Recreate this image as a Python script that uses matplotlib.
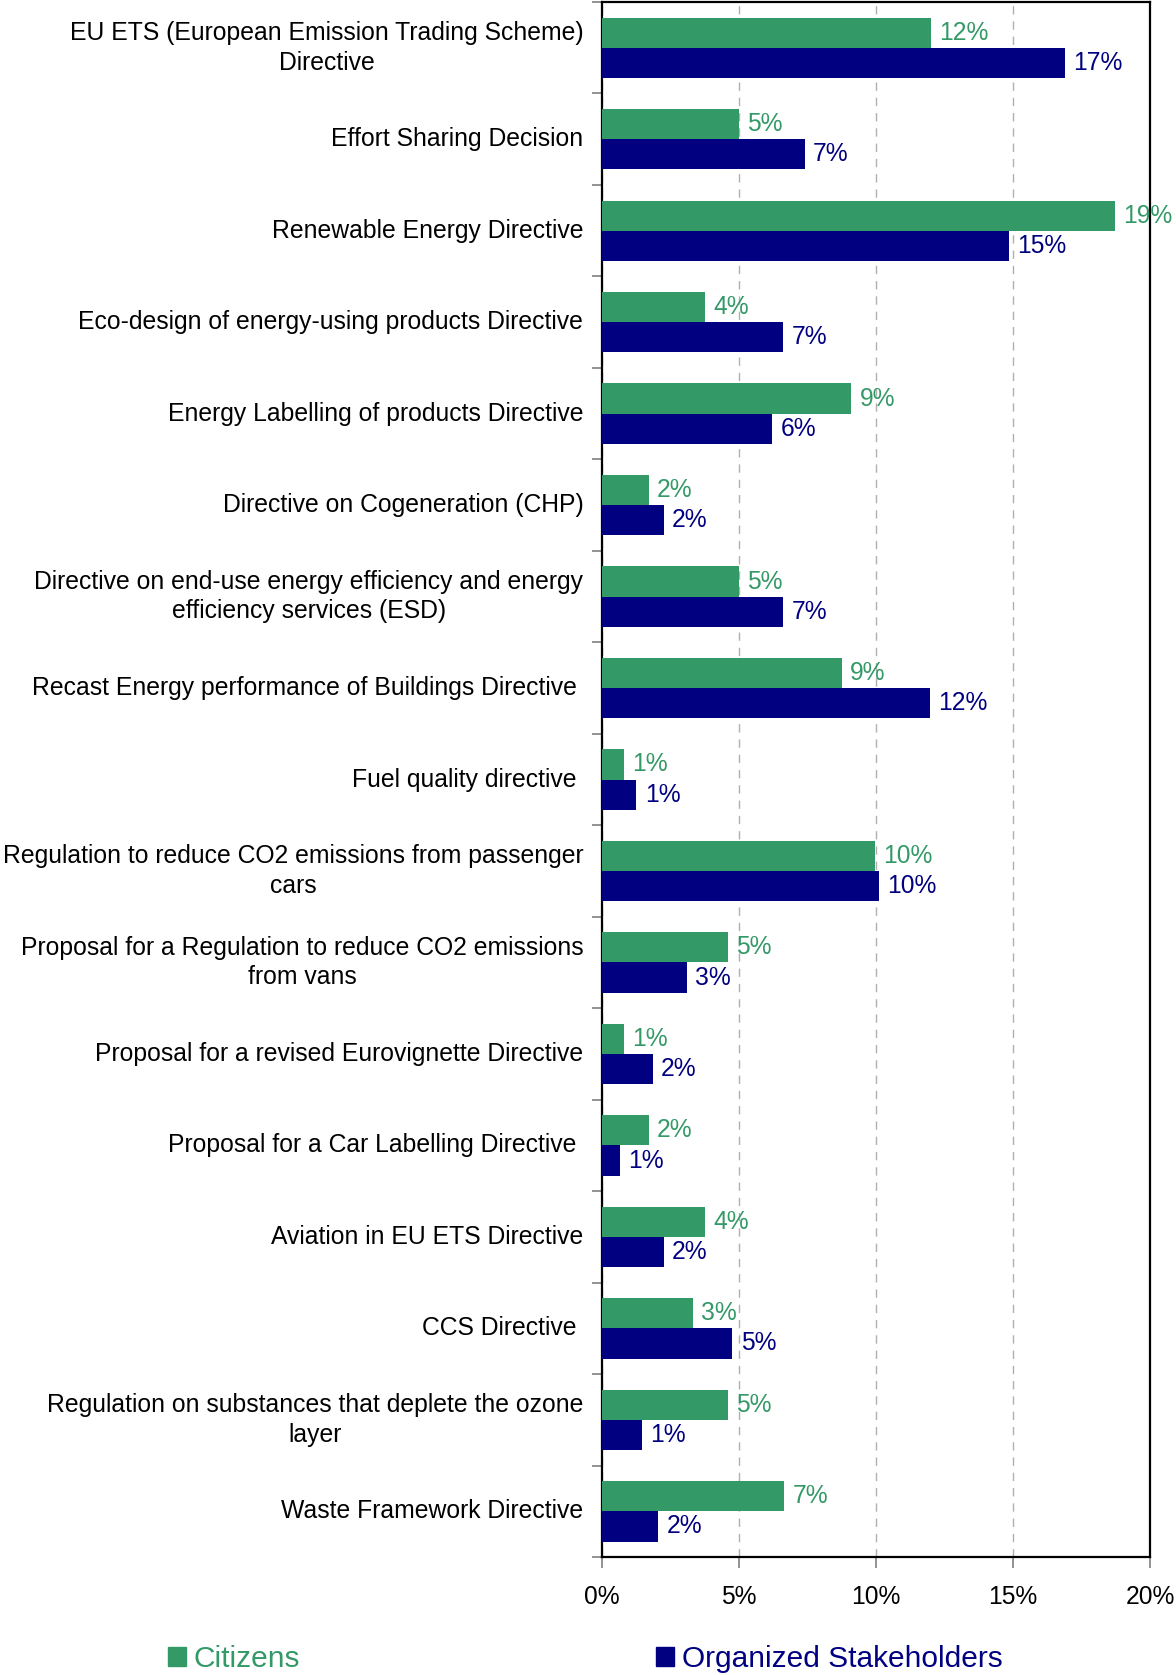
import numpy as np
import matplotlib
matplotlib.use('Agg')
import matplotlib.pyplot as plt
from matplotlib.patches import Rectangle
from matplotlib.ticker import FixedLocator, PercentFormatter

plt.rcParams['font.family'] = ['Liberation Sans', 'DejaVu Sans']

# Instruments, top to bottom (trailing spaces kept as in the source table)
categories = [
    'EU ETS (European Emission Trading Scheme)\nDirective',
    'Effort Sharing Decision',
    'Renewable Energy Directive',
    'Eco-design of energy-using products Directive',
    'Energy Labelling of products Directive',
    'Directive on Cogeneration (CHP)',
    'Directive on end-use energy efficiency and energy\nefficiency services (ESD)',
    'Recast Energy performance of Buildings Directive ',
    'Fuel quality directive ',
    'Regulation to reduce CO2 emissions from passenger\ncars',
    'Proposal for a Regulation to reduce CO2 emissions\nfrom vans',
    'Proposal for a revised Eurovignette Directive',
    'Proposal for a Car Labelling Directive ',
    'Aviation in EU ETS Directive',
    'CCS Directive ',
    'Regulation on substances that deplete the ozone\nlayer',
    'Waste Framework Directive',
]

# Share of responses (%)
citizens = [12.0, 5.0, 18.7, 3.75, 9.1, 1.7, 5.0, 8.75, 0.8, 9.95, 4.6,
            0.8, 1.7, 3.75, 3.3, 4.6, 6.65]
stakeholders = [16.9, 7.4, 14.85, 6.6, 6.2, 2.25, 6.6, 11.95, 1.25, 10.1, 3.1,
                1.85, 0.65, 2.25, 4.75, 1.45, 2.05]

series_names = ['Citizens', 'Organized Stakeholders']
green = '#339966'
navy = '#000080'

fig = plt.figure(figsize=(11.76, 16.75), dpi=100)
ax = fig.add_axes([0.512, 0.0704, 0.466, 0.9284])

y = np.arange(len(categories))
h = 0.33
ax.barh(y - h / 2, citizens, height=h, color=green, zorder=3)
ax.barh(y + h / 2, stakeholders, height=h, color=navy, zorder=3)

for yi, v in zip(y, citizens):
    ax.annotate('%.0f%%' % v, (v, yi - h / 2), xytext=(6, 0), textcoords='offset points',
                ha='left', va='center', fontsize=17.7, color=green, zorder=4)
for yi, v in zip(y, stakeholders):
    ax.annotate('%.0f%%' % v, (v, yi + h / 2), xytext=(6, 0), textcoords='offset points',
                ha='left', va='center', fontsize=17.7, color=navy, zorder=4)

ax.set_xlim(0, 20)
ax.set_ylim(len(categories) - 0.5, -0.5)

ax.set_xticks([0, 5, 10, 15, 20])
ax.xaxis.set_major_formatter(PercentFormatter(decimals=0))
ax.tick_params(axis='x', direction='out', length=8, width=1.2, color='#808080',
               pad=12, labelsize=17.7)

ax.set_yticks(y)
ax.set_yticklabels(categories, fontsize=17.8, linespacing=1.3, va='center')
for lab in ax.get_yticklabels():
    lab.set_multialignment('center')
ax.tick_params(axis='y', which='major', length=0, pad=13.5)
ax.yaxis.set_minor_locator(FixedLocator(np.arange(len(categories) + 1) - 0.5))
ax.tick_params(axis='y', which='minor', direction='out', length=7, width=1.2,
               color='#808080')

ax.grid(axis='x', linestyle=(0, (6, 5)), color='#b0b0b0', linewidth=1, zorder=0)
for s in ax.spines.values():
    s.set_linewidth(1.6)
    s.set_color('black')

# Legend entries placed separately, each with its own text colour
for name, col, x0 in [(series_names[0], green, 0.143), (series_names[1], navy, 0.558)]:
    leg = fig.legend(handles=[Rectangle((0, 0), 1, 1, color=col)], labels=[name],
                     loc='center left', bbox_to_anchor=(x0, 0.0095), frameon=False,
                     fontsize=21.5, handlelength=0.6, handleheight=0.6,
                     handletextpad=0.25, borderpad=0, borderaxespad=0)
    for t in leg.get_texts():
        t.set_color(col)

fig.savefig('out.png', dpi=100)
